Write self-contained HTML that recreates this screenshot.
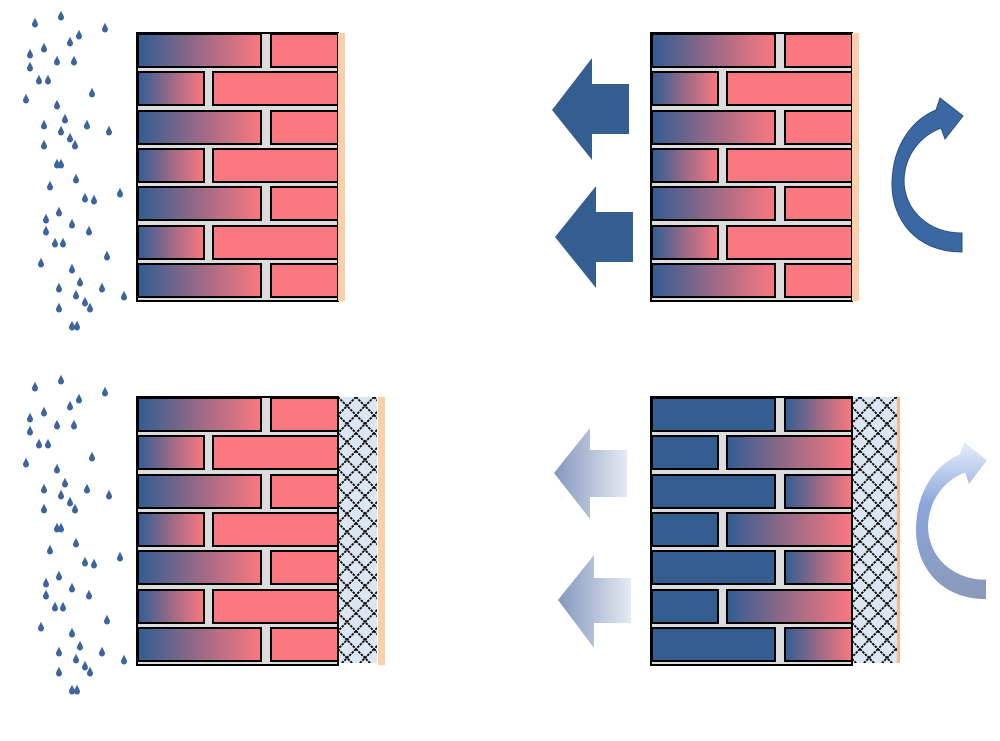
<!DOCTYPE html>
<html><head><meta charset="utf-8"><style>html,body{margin:0;padding:0;background:#fff}svg{display:block}</style></head>
<body>
<svg width="1000" height="741" viewBox="0 0 1000 741" xmlns="http://www.w3.org/2000/svg">
<defs>
<linearGradient id="g" x1="0" x2="1" y1="0" y2="0"><stop offset="0" stop-color="#315d93"/><stop offset="0.5" stop-color="#9a6a86"/><stop offset="1" stop-color="#fb7880"/></linearGradient>
<linearGradient id="fa" x1="0" x2="1"><stop offset="0" stop-color="#8397bd"/><stop offset="1" stop-color="#e6eaf3"/></linearGradient>
<linearGradient id="fc" x1="0" x2="0" y1="0" y2="1"><stop offset="0" stop-color="#e8eefa"/><stop offset="0.4" stop-color="#8aa6dc"/><stop offset="1" stop-color="#8a9ab8"/></linearGradient>
<pattern id="x" x="338" y="397" width="18" height="18" patternUnits="userSpaceOnUse">
<rect width="18" height="18" fill="#dce6f2"/>
<path d="M0,0 L18,18 M18,0 L0,18" stroke="#000" stroke-width="1.8" stroke-dasharray="2.5,1"/>
</pattern>
<path id="d" d="M0,-4.5 C1,-1.5 3,0.5 3,2.5 A3,3 0 0 1 -3,2.5 C-3,0.5 -1,-1.5 0,-4.5Z" fill="#3b64a0"/>
<g id="wa">
<rect x="0" y="0" width="201" height="268" fill="#dcdcdc" stroke="#000" stroke-width="2"/>
<g stroke="#000" stroke-width="2">
<rect x="1" y="1" width="123" height="33" fill="url(#g)"/><rect x="134" y="1" width="67" height="33" fill="#fb7880"/>
<rect x="1" y="39" width="66" height="33" fill="url(#g)"/><rect x="76" y="39" width="125" height="33" fill="#fb7880"/>
<rect x="1" y="78" width="123" height="33" fill="url(#g)"/><rect x="134" y="78" width="67" height="33" fill="#fb7880"/>
<rect x="1" y="116" width="66" height="33" fill="url(#g)"/><rect x="76" y="116" width="125" height="33" fill="#fb7880"/>
<rect x="1" y="154" width="123" height="33" fill="url(#g)"/><rect x="134" y="154" width="67" height="33" fill="#fb7880"/>
<rect x="1" y="193" width="66" height="33" fill="url(#g)"/><rect x="76" y="193" width="125" height="33" fill="#fb7880"/>
<rect x="1" y="231" width="123" height="33" fill="url(#g)"/><rect x="134" y="231" width="67" height="33" fill="#fb7880"/>
</g></g>
<g id="wb">
<rect x="0" y="0" width="201" height="268" fill="#dcdcdc" stroke="#000" stroke-width="2"/>
<g stroke="#000" stroke-width="2">
<rect x="1" y="1" width="123" height="33" fill="#355e90"/><rect x="134" y="1" width="67" height="33" fill="url(#g)"/>
<rect x="1" y="39" width="66" height="33" fill="#355e90"/><rect x="76" y="39" width="125" height="33" fill="url(#g)"/>
<rect x="1" y="78" width="123" height="33" fill="#355e90"/><rect x="134" y="78" width="67" height="33" fill="url(#g)"/>
<rect x="1" y="116" width="66" height="33" fill="#355e90"/><rect x="76" y="116" width="125" height="33" fill="url(#g)"/>
<rect x="1" y="154" width="123" height="33" fill="#355e90"/><rect x="134" y="154" width="67" height="33" fill="url(#g)"/>
<rect x="1" y="193" width="66" height="33" fill="#355e90"/><rect x="76" y="193" width="125" height="33" fill="url(#g)"/>
<rect x="1" y="231" width="123" height="33" fill="#355e90"/><rect x="134" y="231" width="67" height="33" fill="url(#g)"/>
</g></g>
<g id="drops">
<use href="#d" x="35" y="22"/><use href="#d" x="61" y="15"/><use href="#d" x="105" y="27"/><use href="#d" x="79" y="34"/><use href="#d" x="70" y="41"/><use href="#d" x="44" y="47"/><use href="#d" x="30" y="53"/><use href="#d" x="57" y="60"/><use href="#d" x="74" y="60"/><use href="#d" x="30" y="66"/><use href="#d" x="39" y="79"/><use href="#d" x="48" y="79"/><use href="#d" x="92" y="92"/><use href="#d" x="26" y="98"/><use href="#d" x="57" y="104"/><use href="#d" x="65" y="118"/><use href="#d" x="44" y="124"/><use href="#d" x="61" y="130"/><use href="#d" x="87" y="124"/><use href="#d" x="109" y="130"/><use href="#d" x="44" y="144"/><use href="#d" x="70" y="137"/><use href="#d" x="75" y="144"/><use href="#d" x="57" y="163"/><use href="#d" x="61" y="163"/><use href="#d" x="50" y="185"/><use href="#d" x="76" y="178"/><use href="#d" x="120" y="192"/><use href="#d" x="85" y="197"/><use href="#d" x="94" y="199"/><use href="#d" x="59" y="211"/><use href="#d" x="46" y="218"/><use href="#d" x="72" y="223"/><use href="#d" x="46" y="230"/><use href="#d" x="89" y="230"/><use href="#d" x="55" y="242"/><use href="#d" x="63" y="242"/><use href="#d" x="107" y="255"/><use href="#d" x="41" y="262"/><use href="#d" x="72" y="268"/><use href="#d" x="80" y="281"/><use href="#d" x="59" y="287"/><use href="#d" x="102" y="287"/><use href="#d" x="76" y="294"/><use href="#d" x="124" y="295"/><use href="#d" x="85" y="301"/><use href="#d" x="90" y="307"/><use href="#d" x="59" y="307"/><use href="#d" x="72" y="325"/><use href="#d" x="77" y="325"/>
</g>
<path id="ca" d="M962,252 C915,252 891,218 892,182 C893,145 912,120 936,110 L940,98 L963,116 L945,139 L941,128 C920,136 905,155 904,180 C904,210 928,233 962,233 Z"/>
</defs>

<use href="#drops"/>
<use href="#drops" transform="translate(0,364)"/>

<use href="#wa" x="137" y="33"/>
<rect x="338" y="33" width="7" height="268" fill="#fbd0a8"/>

<use href="#wa" x="651" y="33"/>
<rect x="852" y="33" width="7" height="268" fill="#fbd0a8"/>
<path d="M552,110 L592,58 L592,84 L629,84 L629,134 L592,134 L592,160 Z" fill="#355e90"/>
<path d="M555,237 L596,186 L596,212 L633,212 L633,262 L596,262 L596,288 Z" fill="#355e90"/>
<use href="#ca" fill="#3b68a3" stroke="#2c5080" stroke-width="1"/>

<use href="#wa" x="137" y="397"/>
<rect x="339" y="397" width="38" height="266" fill="url(#x)"/>
<rect x="378" y="397" width="7" height="268" fill="#fbd0a8"/>

<use href="#wb" x="651" y="397"/>
<rect x="853" y="397" width="44" height="266" fill="url(#x)"/>
<rect x="897" y="397" width="3" height="266" fill="#f2b98a"/>
<path d="M554,473 L590,428 L590,450 L627,450 L627,497 L590,497 L590,519 Z" fill="url(#fa)"/>
<path d="M558,600 L594,555 L594,578 L631,578 L631,623 L594,623 L594,648 Z" fill="url(#fa)"/>
<use href="#ca" transform="translate(24,342) scale(1,1.02)" fill="url(#fc)"/>
</svg>
</body></html>
